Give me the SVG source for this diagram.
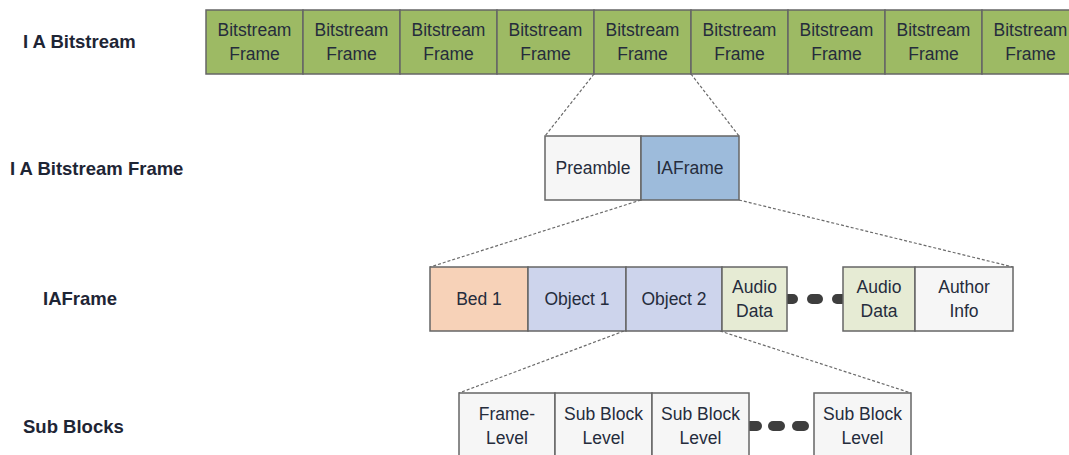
<svg xmlns="http://www.w3.org/2000/svg" width="1069" height="455" viewBox="0 0 1069 455">
<style>
.lbl{font-family:"Liberation Sans",Arial,sans-serif;font-weight:bold;font-size:18.5px;fill:#1e2535}
.t{font-family:"Liberation Sans",Arial,sans-serif;font-size:17.5px;fill:#252c3c;text-anchor:middle}
.box{stroke:#666666;stroke-width:1.5}
.g{fill:#9dba64}
.w{fill:#f6f6f6}
.b{fill:#9dbbdb}
.p{fill:#f7d2b8}
.o{fill:#cdd4ec}
.a{fill:#e6ebd4}
.dash{stroke:#6a6a6a;stroke-width:1.2;stroke-dasharray:3 2;fill:none}
.dots{stroke:#3e3e3e;stroke-width:10;stroke-linecap:round}
</style>
<rect width="1069" height="455" fill="#ffffff"/>
<g id="labels">
<text class="lbl" x="23" y="48">I A Bitstream</text>
<text class="lbl" x="10" y="175">I A Bitstream Frame</text>
<text class="lbl" x="43" y="305">IAFrame</text>
<text class="lbl" x="23" y="433">Sub Blocks</text>
</g>
<g id="connectors">
<line class="dash" x1="594" y1="74" x2="545" y2="136"/>
<line class="dash" x1="691" y1="74" x2="739" y2="136"/>
<line class="dash" x1="641" y1="200" x2="430" y2="267"/>
<line class="dash" x1="739" y1="200" x2="1013" y2="267"/>
<line class="dash" x1="624" y1="331" x2="459" y2="393"/>
<line class="dash" x1="720" y1="331" x2="911" y2="393"/>
<line class="dots" x1="788" y1="299" x2="793" y2="299"/>
<line class="dots" x1="812" y1="299" x2="818" y2="299"/>
<line class="dots" x1="837" y1="299" x2="842" y2="299"/>
<line class="dots" x1="750" y1="426" x2="757" y2="426"/>
<line class="dots" x1="773" y1="426" x2="780" y2="426"/>
<line class="dots" x1="797" y1="426" x2="804" y2="426"/>
</g>
<g id="bitstream">
<rect class="box g" x="206" y="10" width="97" height="64"/>
<rect class="box g" x="303" y="10" width="97" height="64"/>
<rect class="box g" x="400" y="10" width="97" height="64"/>
<rect class="box g" x="497" y="10" width="97" height="64"/>
<rect class="box g" x="594" y="10" width="97" height="64"/>
<rect class="box g" x="691" y="10" width="97" height="64"/>
<rect class="box g" x="788" y="10" width="97" height="64"/>
<rect class="box g" x="885" y="10" width="97" height="64"/>
<rect class="box g" x="982" y="10" width="97" height="64"/>
<text class="t" x="254.5" y="36">Bitstream</text><text class="t" x="254.5" y="60">Frame</text>
<text class="t" x="351.5" y="36">Bitstream</text><text class="t" x="351.5" y="60">Frame</text>
<text class="t" x="448.5" y="36">Bitstream</text><text class="t" x="448.5" y="60">Frame</text>
<text class="t" x="545.5" y="36">Bitstream</text><text class="t" x="545.5" y="60">Frame</text>
<text class="t" x="642.5" y="36">Bitstream</text><text class="t" x="642.5" y="60">Frame</text>
<text class="t" x="739.5" y="36">Bitstream</text><text class="t" x="739.5" y="60">Frame</text>
<text class="t" x="836.5" y="36">Bitstream</text><text class="t" x="836.5" y="60">Frame</text>
<text class="t" x="933.5" y="36">Bitstream</text><text class="t" x="933.5" y="60">Frame</text>
<text class="t" x="1030.5" y="36">Bitstream</text><text class="t" x="1030.5" y="60">Frame</text>
</g>
<g id="frame">
<rect class="box w" x="545" y="136" width="96" height="64"/>
<rect class="box b" x="641" y="136" width="98" height="64"/>
<text class="t" x="593" y="174">Preamble</text>
<text class="t" x="690" y="174">IAFrame</text>
</g>
<g id="iaframe">
<rect class="box p" x="430" y="267" width="98" height="64"/>
<rect class="box o" x="528" y="267" width="98" height="64"/>
<rect class="box o" x="626" y="267" width="96" height="64"/>
<rect class="box a" x="722" y="267" width="65" height="64"/>
<rect class="box a" x="843" y="267" width="72" height="64"/>
<rect class="box w" x="915" y="267" width="98" height="64"/>
<text class="t" x="479" y="305">Bed 1</text>
<text class="t" x="577" y="305">Object 1</text>
<text class="t" x="674" y="305">Object 2</text>
<text class="t" x="754.5" y="293">Audio</text><text class="t" x="754.5" y="317">Data</text>
<text class="t" x="879" y="293">Audio</text><text class="t" x="879" y="317">Data</text>
<text class="t" x="964" y="293">Author</text><text class="t" x="964" y="317">Info</text>
</g>
<g id="subblocks">
<rect class="box w" x="459" y="393" width="96" height="70"/>
<rect class="box w" x="555" y="393" width="97" height="70"/>
<rect class="box w" x="652" y="393" width="97" height="70"/>
<rect class="box w" x="814" y="393" width="97" height="70"/>
<text class="t" x="507" y="420">Frame-</text><text class="t" x="507" y="444">Level</text>
<text class="t" x="603.5" y="420">Sub Block</text><text class="t" x="603.5" y="444">Level</text>
<text class="t" x="700.5" y="420">Sub Block</text><text class="t" x="700.5" y="444">Level</text>
<text class="t" x="862.5" y="420">Sub Block</text><text class="t" x="862.5" y="444">Level</text>
</g>
</svg>
